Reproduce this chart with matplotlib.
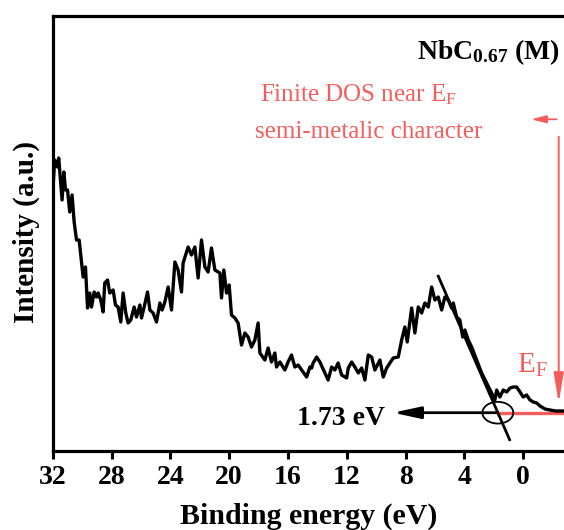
import matplotlib
matplotlib.use("Agg")
import matplotlib.pyplot as plt
from matplotlib.patches import Ellipse

plt.rcParams['font.family'] = 'Liberation Serif'
plt.rcParams['mathtext.default'] = 'regular'

# valence band spectrum (binding energy in eV, intensity in arb. units)
energy = [31.97, 31.86, 31.67, 31.59, 31.36, 31.24, 31.13, 30.99, 30.84, 30.68,
          30.54, 30.38, 30.20, 29.93, 29.77, 29.63, 29.48, 29.36, 29.18, 29.02,
          28.91, 28.73, 28.57, 28.46, 28.27, 28.12, 27.89, 27.73, 27.55, 27.37,
          27.21, 27.03, 26.87, 26.69, 26.46, 26.30, 26.07, 25.96, 25.78, 25.55,
          25.39, 25.17, 24.94, 24.71, 24.56, 24.37, 24.15, 23.92, 23.69, 23.47,
          23.24, 23.13, 22.79, 22.56, 22.33, 22.11, 21.88, 21.65, 21.43, 21.20,
          20.97, 20.63, 20.52, 20.36, 20.18, 20.00, 19.84, 19.61, 19.39, 19.16,
          18.93, 18.71, 18.48, 18.25, 18.03, 17.91, 17.57, 17.35, 17.12, 16.89,
          16.78, 16.55, 16.21, 15.99, 15.76, 15.53, 15.31, 15.07, 14.73, 14.51,
          14.39, 14.29, 14.05, 13.83, 13.49, 13.27, 13.03, 12.81, 12.59, 12.35,
          12.01, 11.90, 11.67, 11.45, 11.22, 10.99, 10.77, 10.54, 10.31, 10.09,
          9.75, 9.52, 9.29, 9.07, 8.84, 8.50, 8.27, 8.05, 7.89, 7.59,
          7.37, 7.14, 6.91, 6.69, 6.46, 6.23, 6.01, 5.78, 5.55, 5.33,
          5.10, 4.87, 4.76, 4.53, 4.31, 4.12, 3.97, 3.74, 3.51, 3.17,
          2.83, 2.49, 2.15, 1.93, 1.81, 1.59, 1.36, 1.13, 0.90, 0.68,
          0.45, 0.22, 0.00, -0.23, -0.46, -0.68, -0.91, -1.14, -1.48, -1.82,
          -2.22, -2.70]
intensity = [265.7, 290.7, 283.7, 292.7, 250.7, 278.7, 260.7, 260.7, 238.7, 255.7,
             228.7, 210.7, 210.7, 173.7, 183.7, 142.7, 157.7, 143.7, 158.7, 153.7,
             157.7, 150.7, 138.7, 167.7, 170.7, 157.7, 160.7, 145.7, 143.7, 128.7,
             157.7, 137.7, 127.7, 130.7, 143.7, 133.7, 145.7, 132.7, 143.7, 158.7,
             140.7, 137.7, 128.7, 147.7, 140.7, 148.7, 163.7, 140.7, 188.7, 180.7,
             158.7, 187.7, 203.7, 195.7, 203.7, 172.7, 210.7, 183.7, 178.7, 202.7,
             180.7, 177.7, 152.7, 180.7, 157.7, 165.7, 135.7, 132.7, 127.7, 105.7,
             117.7, 113.7, 103.7, 110.7, 127.7, 97.7, 90.7, 102.7, 88.7, 97.7,
             83.7, 88.7, 80.7, 88.7, 95.7, 83.7, 85.7, 80.7, 73.7, 83.7,
             82.7, 87.7, 93.7, 88.7, 77.7, 70.7, 83.7, 80.7, 87.7, 75.7,
             72.7, 82.7, 88.7, 83.7, 77.7, 82.7, 70.7, 95.7, 93.7, 80.7,
             90.7, 73.7, 82.7, 87.7, 92.7, 93.7, 110.7, 123.7, 108.7, 142.7,
             117.7, 143.7, 137.7, 147.7, 143.7, 163.7, 150.7, 153.7, 140.7, 153.7,
             150.7, 142.7, 147.7, 133.7, 130.7, 113.7, 120.7, 110.7, 103.7, 90.7,
             77.7, 67.7, 57.7, 50.7, 60.7, 53.7, 60.7, 58.7, 62.7, 63.7,
             63.7, 58.7, 53.7, 55.7, 50.7, 48.7, 47.7, 44.7, 41.7, 40.7,
             39.7, 39.7]

xticks = [32, 28, 24, 20, 16, 12, 8, 4, 0]

# leading-edge extrapolation
gap = 1.73          # eV, valence band edge
base = 38.0         # background level
slope = 33.7        # intensity per eV along the leading edge
tangent_E = [5.78, 0.93]

red = '#f55d5b'
xlo, xhi = 32, -2.77

fig = plt.figure(figsize=(5.64, 5.30), dpi=100)
ax = fig.add_axes([0.0934, 0.1496, 0.9066, 0.8208])

ax.plot(energy, intensity, color='k', lw=2.4, zorder=3)

tangent_I = [base + slope * (e - gap) for e in tangent_E]
ax.plot(tangent_E, tangent_I, color='k', lw=2.0, zorder=4)

# background level, arrow to the gap value and the marking circle
ax.annotate('', xy=(8.86, base), xytext=(gap, base),
            arrowprops=dict(arrowstyle='-|>,head_length=0.83,head_width=0.18',
                            color='k', lw=2.0, mutation_scale=20,
                            shrinkA=0, shrinkB=0), zorder=2)
ax.plot([gap, xhi], [base, base], color=red, lw=2.4, zorder=2)
ax.add_patch(Ellipse((gap, base), 2.1, 21.7, fill=False, ec='k', lw=1.3, zorder=5))
ax.text(9.39, 25.7, '1.73 eV', ha='right', va='baseline',
        fontsize=20, fontweight='bold')

# Fermi level markers
ax.annotate('', xy=(-2.41, 47.7), xytext=(-2.41, 314),
            arrowprops=dict(arrowstyle='-|>,head_length=0.9,head_width=0.15',
                            color=red, lw=1.4, mutation_scale=20,
                            shrinkA=0, shrinkB=0))
ax.annotate('', xy=(-0.52, 331.4), xytext=(-2.27, 331.4),
            arrowprops=dict(arrowstyle='-|>,head_length=0.6,head_width=0.15',
                            color=red, lw=1.3, mutation_scale=15,
                            shrinkA=0, shrinkB=0))
ax.text(0.43, 77.7, 'E$_F$', color=red, fontsize=21, va='baseline')
ax.text(17.91, 349, 'Finite DOS near E$_F$', color=red, fontsize=18, va='baseline')
ax.text(18.25, 312.4, 'semi-metalic character', color=red, fontsize=18, va='baseline')

ax.text(0.992, 0.900, 'NbC$_{0.67}$ (M)', transform=ax.transAxes,
        ha='right', va='baseline', fontsize=20, fontweight='bold')

ax.set_xlim(xlo, xhi)
ax.set_ylim(0, 435)
ax.set_xticks(xticks)
ax.set_xticklabels([str(t) for t in xticks], fontsize=20, fontweight='bold')
ax.set_yticks([])
ax.tick_params(axis='x', direction='out', length=5.5, width=2.2, pad=5)
for side in ['left', 'top', 'bottom']:
    ax.spines[side].set_linewidth(2.3)
ax.spines['right'].set_visible(False)

ax.set_xlabel('Binding energy (eV)', fontsize=21.5, fontweight='bold', labelpad=9)
ax.set_ylabel('Intensity (a.u.)', fontsize=21, fontweight='bold')
ax.yaxis.set_label_coords(-0.025, 0.503)

fig.savefig('out.png', dpi=100)
